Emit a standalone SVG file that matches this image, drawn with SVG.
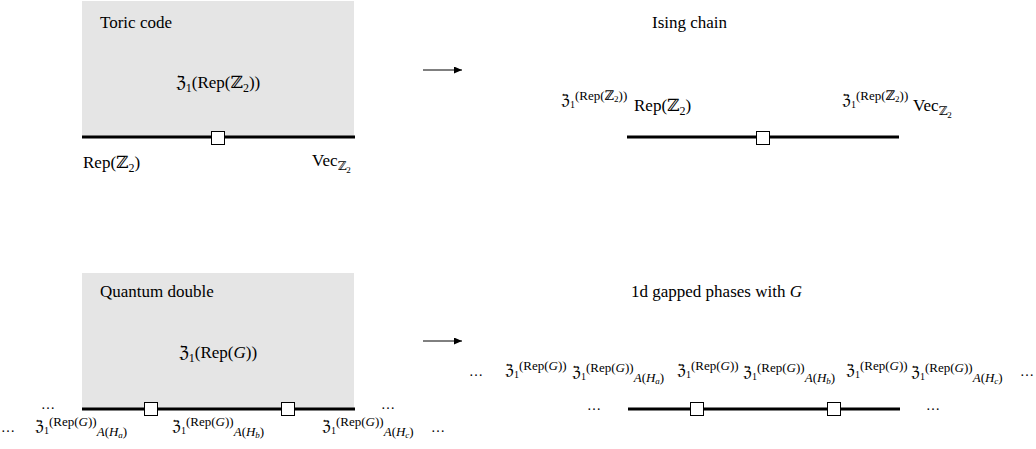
<svg xmlns="http://www.w3.org/2000/svg" width="1036" height="449" viewBox="0 0 1036 449">
<style>
text{font-family:"Liberation Serif","DejaVu Serif",serif;fill:#000}
.f17{font-size:17px}
.f15{font-size:15px}
.f13{font-size:13px}
.f12{font-size:12px}
.f10{font-size:10px}
.f9{font-size:9px}
.it{font-style:italic}
.box{fill:#e5e5e5;stroke:none}
.bar{stroke:#000;stroke-width:3;fill:none}
.sq{fill:#fff;stroke:#000;stroke-width:1}
.arr{stroke:#000;stroke-width:1;fill:none;marker-end:url(#ah)}
.dots{font-size:14px}
</style>
<defs>
<marker id="ah" markerUnits="userSpaceOnUse" markerWidth="9" markerHeight="8" refX="8" refY="3.5" orient="auto">
<path d="M0,0 L8,3.5 L0,7 Z" fill="#000"/>
</marker>
</defs>

<g id="toric-code">
<rect class="box" x="82" y="1" width="272" height="136"/>
<line class="bar" x1="82" y1="137" x2="355" y2="137"/>
<rect class="sq" x="211.5" y="131.5" width="13" height="13"/>
<text class="f17" x="100" y="28">Toric code</text>
<text class="f17" x="218" y="88" text-anchor="middle">ℨ<tspan class="f12" dy="4">1</tspan><tspan dy="-4">(Rep(ℤ</tspan><tspan class="f12" dy="4">2</tspan><tspan dy="-4">))</tspan></text>
<text class="f17" x="83" y="168">Rep(ℤ<tspan class="f12" dy="4">2</tspan><tspan dy="-4">)</tspan></text>
<text class="f17" x="312" y="166">Vec<tspan class="f12" dy="4">ℤ</tspan><tspan class="f9" dy="3">2</tspan></text>
</g>

<g id="ising-chain">
<text class="f17" x="652" y="28">Ising chain</text>
<line class="bar" x1="627" y1="137" x2="899" y2="137"/>
<rect class="sq" x="756.5" y="131.5" width="13" height="13"/>
<text x="561" y="105"><tspan class="f15">ℨ</tspan><tspan class="f10" dy="3">1</tspan><tspan class="f13" dy="-8">(Rep(ℤ</tspan><tspan class="f9" dy="2">2</tspan><tspan class="f13" dy="-2">))</tspan><tspan class="f17" x="634" y="111">Rep(ℤ</tspan><tspan class="f12" dy="4">2</tspan><tspan class="f17" dy="-4">)</tspan></text>
<text x="842" y="105"><tspan class="f15">ℨ</tspan><tspan class="f10" dy="3">1</tspan><tspan class="f13" dy="-8">(Rep(ℤ</tspan><tspan class="f9" dy="2">2</tspan><tspan class="f13" dy="-2">))</tspan><tspan class="f17" x="913" y="111">Vec</tspan><tspan class="f12" dy="4">ℤ</tspan><tspan class="f9" dy="3">2</tspan></text>
</g>

<g id="quantum-double">
<rect class="box" x="82" y="273" width="272" height="136"/>
<line class="bar" x1="82" y1="409" x2="355" y2="409"/>
<rect class="sq" x="144.5" y="402.5" width="13" height="13"/>
<rect class="sq" x="281.5" y="402.5" width="13" height="13"/>
<text class="f17" x="100" y="297">Quantum double</text>
<text class="f17" x="218" y="358" text-anchor="middle">ℨ<tspan class="f12" dy="4">1</tspan><tspan dy="-4">(Rep(</tspan><tspan class="it">G</tspan>))</text>
<text class="dots" x="41" y="409">…</text>
<text class="dots" x="381" y="409">…</text>
<text class="dots" x="1" y="432">…</text>
<text class="dots" x="431" y="432">…</text>
<text x="35" y="431"><tspan class="f15">ℨ</tspan><tspan class="f10" dy="3">1</tspan><tspan class="f13" dy="-8">(Rep(<tspan class="it">G</tspan>))</tspan><tspan class="f13 it" dy="10">A</tspan><tspan class="f13">(</tspan><tspan class="f13 it">H</tspan><tspan class="f9 it" dy="2">a</tspan><tspan class="f13" dy="-2">)</tspan></text>
<text x="172" y="431"><tspan class="f15">ℨ</tspan><tspan class="f10" dy="3">1</tspan><tspan class="f13" dy="-8">(Rep(<tspan class="it">G</tspan>))</tspan><tspan class="f13 it" dy="10">A</tspan><tspan class="f13">(</tspan><tspan class="f13 it">H</tspan><tspan class="f9 it" dy="2">b</tspan><tspan class="f13" dy="-2">)</tspan></text>
<text x="322" y="431"><tspan class="f15">ℨ</tspan><tspan class="f10" dy="3">1</tspan><tspan class="f13" dy="-8">(Rep(<tspan class="it">G</tspan>))</tspan><tspan class="f13 it" dy="10">A</tspan><tspan class="f13">(</tspan><tspan class="f13 it">H</tspan><tspan class="f9 it" dy="2">c</tspan><tspan class="f13" dy="-2">)</tspan></text>
</g>

<g id="gapped-phases">
<text class="f17" x="631" y="297">1d gapped phases with <tspan class="it">G</tspan></text>
<line class="bar" x1="628" y1="409" x2="900" y2="409"/>
<rect class="sq" x="690.5" y="402.5" width="13" height="13"/>
<rect class="sq" x="827.5" y="402.5" width="13" height="13"/>
<text class="dots" x="587" y="410">…</text>
<text class="dots" x="926" y="410">…</text>
<text class="dots" x="469" y="376">…</text>
<text class="dots" x="1020" y="376">…</text>
<text x="505" y="375"><tspan class="f15">ℨ</tspan><tspan class="f10" dy="3">1</tspan><tspan class="f13" dy="-8">(Rep(<tspan class="it">G</tspan>))</tspan></text>
<text x="572" y="377"><tspan class="f15">ℨ</tspan><tspan class="f10" dy="3">1</tspan><tspan class="f13" dy="-8">(Rep(<tspan class="it">G</tspan>))</tspan><tspan class="f13 it" dy="10">A</tspan><tspan class="f13">(</tspan><tspan class="f13 it">H</tspan><tspan class="f9 it" dy="2">a</tspan><tspan class="f13" dy="-2">)</tspan></text>
<text x="677" y="375"><tspan class="f15">ℨ</tspan><tspan class="f10" dy="3">1</tspan><tspan class="f13" dy="-8">(Rep(<tspan class="it">G</tspan>))</tspan></text>
<text x="743" y="377"><tspan class="f15">ℨ</tspan><tspan class="f10" dy="3">1</tspan><tspan class="f13" dy="-8">(Rep(<tspan class="it">G</tspan>))</tspan><tspan class="f13 it" dy="10">A</tspan><tspan class="f13">(</tspan><tspan class="f13 it">H</tspan><tspan class="f9 it" dy="2">b</tspan><tspan class="f13" dy="-2">)</tspan></text>
<text x="846" y="375"><tspan class="f15">ℨ</tspan><tspan class="f10" dy="3">1</tspan><tspan class="f13" dy="-8">(Rep(<tspan class="it">G</tspan>))</tspan></text>
<text x="911" y="377"><tspan class="f15">ℨ</tspan><tspan class="f10" dy="3">1</tspan><tspan class="f13" dy="-8">(Rep(<tspan class="it">G</tspan>))</tspan><tspan class="f13 it" dy="10">A</tspan><tspan class="f13">(</tspan><tspan class="f13 it">H</tspan><tspan class="f9 it" dy="2">c</tspan><tspan class="f13" dy="-2">)</tspan></text>
</g>

<g id="connectors">
<line class="arr" x1="423" y1="70" x2="462" y2="70"/>
<line class="arr" x1="423" y1="341" x2="462" y2="341"/>
</g>
</svg>
